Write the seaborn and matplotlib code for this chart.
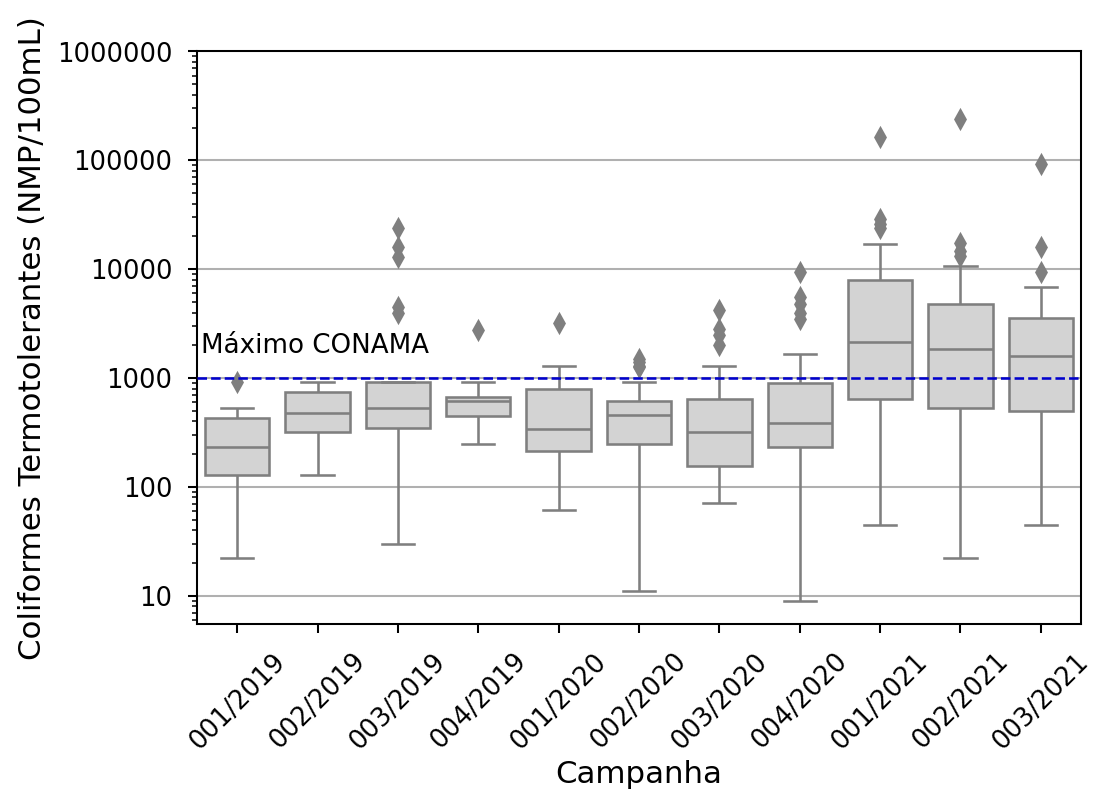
import numpy as np
import pandas as pd
import matplotlib
matplotlib.use("Agg")
import matplotlib.pyplot as plt
import matplotlib.ticker as mticker
import seaborn as sns

# ---- data ----
campanhas = ['001/2019', '002/2019', '003/2019', '004/2019', '001/2020', '002/2020',
             '003/2020', '004/2020', '001/2021', '002/2021', '003/2021']
whisker_low = [22, 129, 30, 248, 61, 11, 71, 9, 45, 22, 45]
q1 = [129, 318, 351, 451, 214, 246, 157, 234, 641, 527, 498]
median = [234, 474, 527, 615, 338, 458, 318, 389, 2153, 1845, 1592]
q3 = [432, 748, 914, 674, 787, 615, 641, 906, 7930, 4775, 3530]
whisker_high = [527, 914, 914, 925, 1297, 925, 1297, 1660, 16860, 10720, 6790]
outliers = [[919], [], [24000, 16000, 13000, 4500, 4000], [2757], [3217],
            [1500, 1400, 1300, 1250], [4200, 2800, 2500, 2000],
            [9400, 5500, 4800, 4000, 3500], [163700, 29000, 26000, 24000],
            [241500, 17300, 14700, 13200], [93300, 16000, 9450]]
limite_conama = 1000

# Build samples whose quartiles / whiskers / fliers reproduce the read statistics
rows = []
for c, lo, a, m, b, hi, out in zip(campanhas, whisker_low, q1, median, q3, whisker_high, outliers):
    top = list(out) + [hi] * (6 - len(out))
    sample = [lo] + [a] * 6 + [m] * 6 + [b] * 6 + top
    rows += [(c, v) for v in sample]
df = pd.DataFrame(rows, columns=['Campanha', 'valor'])

gray = '#7f7f7f'
fig = plt.figure(figsize=((1099 + 0.01) / 185, (792 + 0.01) / 185), dpi=185)
ax = fig.add_axes([197 / 1099, 1 - 624 / 792, (1081 - 197) / 1099, (624 - 51.5) / 792])

sns.boxplot(data=df, x='Campanha', y='valor', color='lightgray', linecolor=gray,
            linewidth=1.0, width=0.8, fliersize=5,
            flierprops=dict(marker='d', markerfacecolor=gray, markeredgecolor=gray),
            ax=ax)
ax.set_yscale('log')
ax.set_ylim(5.5, 1e6)
ax.yaxis.set_major_formatter(mticker.FuncFormatter(lambda v, _: f'{int(round(v))}'))
ax.yaxis.set_minor_formatter(mticker.NullFormatter())
ax.yaxis.grid(True, which='major', color='#b0b0b0', linewidth=0.8)
ax.set_axisbelow(True)

ax.axhline(limite_conama, color='mediumblue', linestyle='--', linewidth=1.0, zorder=5)
ax.text(-0.45, 1700, 'Máximo CONAMA', fontsize=10.2)

ax.set_xlabel('Campanha', fontsize=12, labelpad=2)
ax.set_ylabel('Coliformes Termotolerantes (NMP/100mL)', fontsize=12)
plt.setp(ax.get_xticklabels(), rotation=45, fontsize=10)
ax.tick_params(axis='y', labelsize=10, pad=6)
ax.tick_params(axis='x', pad=6)
for s in ax.spines.values():
    s.set_color('black')

fig.savefig('out.png', dpi=185)
